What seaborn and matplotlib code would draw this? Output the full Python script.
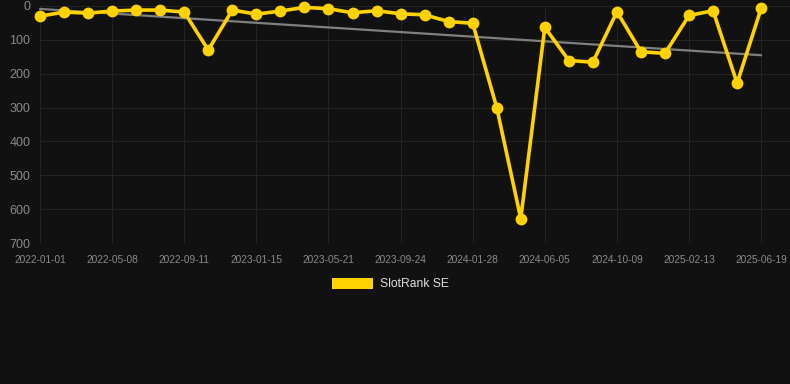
import numpy as np
import pandas as pd
import matplotlib
matplotlib.use("Agg")
import matplotlib.pyplot as plt
import seaborn as sns
from matplotlib.patches import Patch

# data
ranks = [30, 18, 21, 15, 12, 12, 18, 130, 12, 24,
         15, 4, 8, 20, 14, 23, 26, 46, 51, 300,
         628, 63, 161, 166, 17, 135, 140, 28, 14, 228, 7]
tick_labels = ["2022-01-01", "2022-05-08", "2022-09-11", "2023-01-15",
               "2023-05-21", "2023-09-24", "2024-01-28", "2024-06-05",
               "2024-10-09", "2025-02-13", "2025-06-19"]
y_ticks = [0, 100, 200, 300, 400, 500, 600, 700]
series_name = "SlotRank SE"

BG = "#111111"
YEL = "#FFD200"

sns.set_theme(style="dark")
plt.rcParams["font.family"] = ["Liberation Sans", "DejaVu Sans"]

df = pd.DataFrame({"idx": np.arange(len(ranks)), "rank": ranks})
coef = np.polyfit(df["idx"], df["rank"], 1)
trend = np.polyval(coef, df["idx"])

fig = plt.figure(figsize=(7.9, 3.84), dpi=100, facecolor=BG)
ax = fig.add_axes([40 / 790, 1 - 243 / 384, 1 - 40 / 790, 237 / 384])
ax.set_facecolor(BG)

ax.plot(df["idx"], trend, color="#808080", lw=1.6, zorder=2, clip_on=False)
sns.lineplot(data=df, x="idx", y="rank", ax=ax, color=YEL, lw=2.6,
             marker="o", markersize=8.5, markeredgewidth=0, zorder=3,
             clip_on=False, legend=False)

ax.set_ylim(700, 0)
ax.set_xlim(0, 31.2)
ax.set_yticks(y_ticks)
ax.set_yticklabels([str(v) for v in y_ticks])
xt = np.arange(0, len(ranks), 3)
ax.set_xticks(xt)
ax.set_xticklabels(tick_labels)
ax.tick_params(axis="y", colors="#8a8a8a", labelsize=9, length=0, pad=7)
ax.tick_params(axis="x", colors="#8a8a8a", labelsize=7.3, length=0, pad=8.5)
ax.grid(True, color="#232323", lw=0.8)
ax.set_axisbelow(True)
for s in ax.spines.values():
    s.set_visible(False)
ax.set_xlabel("")
ax.set_ylabel("")

handle = Patch(facecolor=YEL, edgecolor="none")
fig.legend([handle], [series_name], loc="center",
           bbox_to_anchor=(0.494, 1 - 284 / 384), frameon=False,
           handlelength=3.4, handleheight=1.1, handletextpad=0.6,
           fontsize=8.7, labelcolor="#dddddd")

fig.savefig("out.png", dpi=100, facecolor=BG)
